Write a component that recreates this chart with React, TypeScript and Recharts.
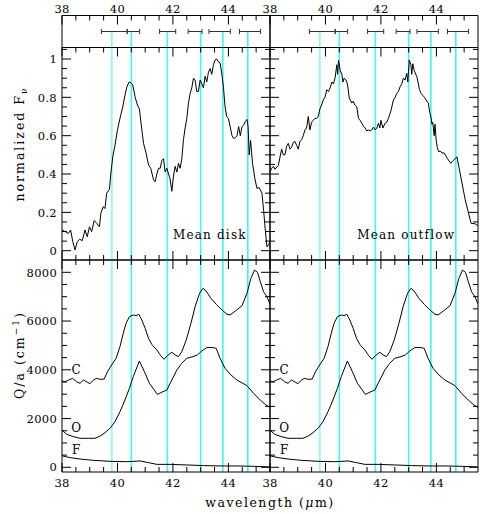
import { ComposedChart, Line, XAxis, YAxis, ReferenceLine, ReferenceDot } from 'recharts';

const W = 480;
const H = 514;
const FONT = '"DejaVu Serif", serif';

// wavelength axis (µm)
const X_DOMAIN: [number, number] = [38, 45.5];
const X_MAJOR = [38, 40, 42, 44];
const X_TICKS = [38, 38.5, 39, 39.5, 40, 40.5, 41, 41.5, 42, 42.5, 43, 43.5, 44, 44.5, 45];

// normalized flux axis
const F_DOMAIN: [number, number] = [-0.0485, 1.06];
const F_MAJOR = [0, 0.2, 0.4, 0.6, 0.8, 1];
const F_TICKS = [0, 0.05, 0.1, 0.15, 0.2, 0.25, 0.3, 0.35, 0.4, 0.45, 0.5, 0.55, 0.6, 0.65, 0.7, 0.75, 0.8, 0.85, 0.9, 0.95, 1, 1.05];

// Q/a axis
const Q_DOMAIN: [number, number] = [-193, 8505];
const Q_MAJOR = [0, 2000, 4000, 6000, 8000];
const Q_TICKS = [0, 500, 1000, 1500, 2000, 2500, 3000, 3500, 4000, 4500, 5000, 5500, 6000, 6500, 7000, 7500, 8000];

// feature positions (cyan) and their widths
const FEATURES = [39.8, 40.5, 41.8, 43.0, 43.8, 44.7];
const FEATURE_WIDTH = [1, 1.6, 1.6, 1.6, 1.6, 1.6];

// error bars in the top strip [from, to]
const BANDS: [number, number][] = [
  [39.42, 40.35], [40.35, 40.8], [41.52, 42.1], [42.55, 43.05], [43.3, 44.07], [44.4, 45.16],
];

const meanDisk: [number, number][] = [
  [38.0, 0.108], [38.11, 0.1], [38.23, 0.09], [38.31, 0.108], [38.39, 0.047], [38.47, 0.004], [38.55, 0.047],
  [38.64, 0.06], [38.73, 0.052], [38.83, 0.108], [38.91, 0.073], [38.99, 0.125], [39.07, 0.1], [39.16, 0.157],
  [39.25, 0.143], [39.35, 0.125], [39.4, 0.195], [39.49, 0.23], [39.55, 0.22], [39.61, 0.3], [39.71, 0.32],
  [39.76, 0.4], [39.83, 0.49], [39.91, 0.55], [40.0, 0.63], [40.09, 0.69], [40.19, 0.75], [40.27, 0.81],
  [40.34, 0.855], [40.42, 0.88], [40.49, 0.876], [40.55, 0.865], [40.64, 0.8], [40.72, 0.76], [40.79, 0.74],
  [40.88, 0.63], [40.94, 0.56], [41.03, 0.51], [41.12, 0.447], [41.2, 0.43], [41.3, 0.37], [41.36, 0.36],
  [41.42, 0.4], [41.48, 0.43], [41.54, 0.43], [41.6, 0.47], [41.66, 0.48], [41.72, 0.41], [41.78, 0.43],
  [41.84, 0.4], [41.89, 0.38], [41.96, 0.31], [42.02, 0.39], [42.08, 0.44], [42.14, 0.41], [42.2, 0.456],
  [42.26, 0.43], [42.32, 0.48], [42.38, 0.58], [42.44, 0.64], [42.5, 0.69], [42.56, 0.77], [42.62, 0.82],
  [42.68, 0.85], [42.74, 0.9], [42.8, 0.89], [42.86, 0.83], [42.92, 0.83], [42.98, 0.89], [43.04, 0.87],
  [43.1, 0.85], [43.16, 0.91], [43.22, 0.88], [43.28, 0.93], [43.34, 0.95], [43.4, 0.92], [43.46, 0.97],
  [43.52, 0.995], [43.58, 1.0], [43.64, 0.985], [43.7, 0.98], [43.76, 0.925], [43.82, 0.855], [43.88, 0.75],
  [43.94, 0.7], [44.0, 0.69], [44.06, 0.65], [44.13, 0.6], [44.19, 0.585], [44.25, 0.59], [44.31, 0.6],
  [44.37, 0.647], [44.43, 0.6], [44.49, 0.647], [44.55, 0.655], [44.61, 0.673], [44.67, 0.685], [44.71, 0.647],
  [44.75, 0.5], [44.8, 0.575], [44.87, 0.456], [44.95, 0.38], [45.03, 0.325], [45.11, 0.33], [45.21, 0.3],
  [45.27, 0.21], [45.33, 0.108], [45.39, 0.02], [45.45, 0.03], [45.5, 0.05],
];

const meanOutflow: [number, number][] = [
  [38.0, 0.41], [38.06, 0.43], [38.12, 0.44], [38.18, 0.425], [38.3, 0.445], [38.42, 0.53], [38.48, 0.5],
  [38.54, 0.5], [38.6, 0.545], [38.66, 0.56], [38.72, 0.53], [38.78, 0.54], [38.84, 0.565], [38.9, 0.57],
  [38.96, 0.55], [39.02, 0.53], [39.08, 0.57], [39.14, 0.58], [39.2, 0.6], [39.26, 0.63], [39.32, 0.64],
  [39.38, 0.7], [39.44, 0.63], [39.5, 0.67], [39.56, 0.68], [39.62, 0.69], [39.68, 0.69], [39.74, 0.7],
  [39.8, 0.74], [39.86, 0.76], [39.92, 0.786], [39.98, 0.8], [40.05, 0.84], [40.11, 0.83], [40.17, 0.85],
  [40.23, 0.88], [40.29, 0.87], [40.35, 0.905], [40.41, 0.97], [40.44, 0.92], [40.47, 0.995], [40.53, 0.94],
  [40.59, 0.92], [40.63, 0.88], [40.67, 0.9], [40.74, 0.89], [40.79, 0.87], [40.86, 0.795], [40.95, 0.77],
  [41.0, 0.78], [41.06, 0.76], [41.13, 0.75], [41.19, 0.69], [41.25, 0.68], [41.31, 0.665], [41.37, 0.65],
  [41.43, 0.64], [41.49, 0.625], [41.55, 0.63], [41.61, 0.625], [41.67, 0.63], [41.73, 0.645], [41.79, 0.63],
  [41.85, 0.64], [41.91, 0.665], [41.96, 0.64], [42.0, 0.68], [42.07, 0.64], [42.15, 0.665], [42.21, 0.67],
  [42.27, 0.69], [42.36, 0.73], [42.45, 0.786], [42.51, 0.8], [42.57, 0.82], [42.63, 0.83], [42.69, 0.855],
  [42.75, 0.87], [42.81, 0.9], [42.87, 0.89], [42.93, 0.925], [42.97, 0.88], [43.02, 0.995], [43.08, 0.97],
  [43.11, 0.92], [43.15, 0.975], [43.2, 0.94], [43.3, 0.905], [43.39, 0.84], [43.45, 0.82], [43.51, 0.81],
  [43.57, 0.8], [43.63, 0.786], [43.71, 0.77], [43.76, 0.72], [43.8, 0.7], [43.84, 0.66], [43.87, 0.67],
  [43.92, 0.6], [43.95, 0.66], [43.99, 0.58], [44.03, 0.54], [44.08, 0.516], [44.14, 0.52], [44.2, 0.51],
  [44.28, 0.51], [44.4, 0.48], [44.52, 0.456], [44.6, 0.47], [44.68, 0.48], [44.74, 0.49], [44.86, 0.4],
  [45.04, 0.265], [45.25, 0.143], [45.4, 0.14], [45.5, 0.13],
];

const qC: [number, number][] = [
  [38.0, 3540], [38.12, 3510], [38.24, 3580], [38.38, 3650], [38.53, 3510], [38.65, 3445], [38.77, 3580],
  [38.89, 3510], [39.01, 3430], [39.13, 3580], [39.25, 3650], [39.37, 3610], [39.52, 3620], [39.64, 3920],
  [39.79, 4200], [39.95, 4470], [40.09, 4950], [40.21, 5500], [40.31, 5910], [40.43, 6180], [40.57, 6250],
  [40.67, 6220], [40.77, 6280], [40.88, 6040], [41.0, 5700], [41.12, 5290], [41.24, 5040], [41.42, 4810],
  [41.56, 4580], [41.68, 4430], [41.8, 4580], [41.96, 4720], [42.08, 4610], [42.2, 4540], [42.32, 4750],
  [42.48, 5220], [42.65, 5910], [42.8, 6590], [42.96, 7140], [43.08, 7340], [43.2, 7230], [43.37, 6930],
  [43.56, 6690], [43.77, 6450], [43.95, 6280], [44.06, 6250], [44.25, 6410], [44.49, 6630], [44.67, 7140],
  [44.81, 7750], [44.94, 8090], [45.05, 8000], [45.15, 7620], [45.27, 7200], [45.39, 7000], [45.5, 6700],
];

const qO: [number, number][] = [
  [38.0, 1530], [38.17, 1350], [38.41, 1260], [38.65, 1190], [38.95, 1190], [39.19, 1190], [39.37, 1280],
  [39.55, 1420], [39.73, 1600], [39.91, 1870], [40.09, 2280], [40.27, 2760], [40.43, 3240], [40.57, 3720],
  [40.79, 4360], [40.96, 3950], [41.15, 3450], [41.44, 2990], [41.6, 3080], [41.78, 3170], [41.96, 3580],
  [42.14, 3990], [42.32, 4270], [42.5, 4470], [42.72, 4540], [42.88, 4610], [43.04, 4770], [43.22, 4910],
  [43.4, 4920], [43.56, 4880], [43.7, 4470], [43.88, 4060], [44.06, 3820], [44.31, 3580], [44.67, 3350],
  [44.91, 3030], [45.15, 2760], [45.33, 2580], [45.5, 2450],
];

const qF: [number, number][] = [
  [38.0, 475], [38.29, 395], [38.65, 340], [39.13, 285], [39.73, 245], [40.33, 230], [40.82, 260],
  [41.12, 190], [41.42, 120], [41.9, 120], [42.5, 95], [43.1, 70], [43.7, 55], [44.31, 55], [44.91, 40], [45.5, 15],
];

const toPts = (a: [number, number][]) => a.map(([w, v]) => ({ w, v }));

const abs: React.CSSProperties = { position: 'absolute', left: 0, top: 0 };
const AX = { stroke: '#000', strokeWidth: 1 };

function tickRenderer(side: 'top' | 'bottom' | 'left' | 'right', majors: number[], withLabel: boolean) {
  return function TickMark(props: any) {
    const { x, y, payload } = props;
    const v = payload.value;
    const major = majors.indexOf(v) >= 0;
    const len = major ? 9 : 5;
    let x2 = x;
    let y2 = y;
    let tx = x;
    let ty = y;
    let anchor: 'middle' | 'end' = 'middle';
    if (side === 'bottom') {
      y2 = y - len;
      ty = y + 14.5;
    } else if (side === 'top') {
      y2 = y + len;
      ty = y - 3;
    } else if (side === 'left') {
      x2 = x + len;
      tx = x - 5;
      ty = y + 4.2;
      anchor = 'end';
    } else {
      x2 = x - len;
    }
    return (
      <g>
        <line x1={x} y1={y} x2={x2} y2={y2} stroke="#000" strokeWidth={1} />
        {withLabel && major ? (
          <text x={tx} y={ty} textAnchor={anchor} fontFamily={FONT} fontSize={11.5} fill="#000" letterSpacing={0.3}>
            {String(v)}
          </text>
        ) : null}
      </g>
    );
  };
}

const textShape = (label: string) => (p: any) => (
  <text x={p.cx} y={p.cy} textAnchor="middle" dominantBaseline="central" fontFamily={FONT} fontSize={12} fill="#000" letterSpacing={1.2}>
    {label}
  </text>
);

const COLS = [
  { left: 62, right: 270, yLabels: true, spectrum: meanDisk, title: 'Mean disk', titleX: 43.33 },
  { left: 270, right: 478, yLabels: false, spectrum: meanOutflow, title: 'Mean outflow', titleX: 42.91 },
];

const ROW_STRIP = [15.5, 47.5];
const ROW_TOP = [47.5, 260];
const ROW_BOTTOM = [260, 472];

// axes take 1px each, so the margins are one pixel smaller than the plot box
function margin(left: number, right: number, row: number[]) {
  return { left: left - 1, right: W - right - 1, top: row[0] - 1, bottom: H - row[1] - 1 };
}

function xAxes(topLabels: boolean, bottomLabels: boolean, bottomTicks = true) {
  return [
    <XAxis key="xb" xAxisId={0} type="number" dataKey="w" domain={X_DOMAIN} allowDataOverflow ticks={X_TICKS}
      interval={0} height={1} tickSize={0} tickMargin={0} axisLine={AX} tickLine={false}
      tick={bottomTicks ? tickRenderer('bottom', X_MAJOR, bottomLabels) : false} />,
    <XAxis key="xt" xAxisId="t" orientation="top" type="number" dataKey="w" domain={X_DOMAIN} allowDataOverflow
      ticks={X_TICKS} interval={0} height={1} tickSize={0} tickMargin={0} axisLine={AX} tickLine={false}
      tick={tickRenderer('top', X_MAJOR, topLabels)} />,
  ];
}

function yAxes(domain: [number, number], ticks: number[] | null, majors: number[], labels: boolean) {
  return [
    <YAxis key="yl" yAxisId={0} type="number" domain={domain} allowDataOverflow ticks={ticks ?? undefined}
      interval={0} width={1} tickSize={0} tickMargin={0} axisLine={AX} tickLine={false}
      tick={ticks ? tickRenderer('left', majors, labels) : false} />,
    <YAxis key="yr" yAxisId="r" orientation="right" type="number" domain={domain} allowDataOverflow
      ticks={ticks ?? undefined} interval={0} width={1} tickSize={0} tickMargin={0} axisLine={AX} tickLine={false}
      tick={ticks ? tickRenderer('right', majors, false) : false} />,
  ];
}

const CYAN = '#3ff5f5';

function Column({ col }: { col: (typeof COLS)[number] }) {
  return (
    <>
      {/* strip with the band widths */}
      <ComposedChart width={W} height={H} margin={margin(col.left, col.right, ROW_STRIP)} style={abs}>
        {xAxes(true, false, false)}
        {yAxes([0, 1], null, [], false)}
        {FEATURES.map((f, i) => (
          <ReferenceLine key={'c' + i} segment={[{ x: f, y: 0.5 }, { x: f, y: 0 }]} stroke={CYAN} strokeWidth={FEATURE_WIDTH[i]} />
        ))}
        {BANDS.map(([a, b], i) => [
          <ReferenceLine key={'h' + i} segment={[{ x: a, y: 0.5 }, { x: b, y: 0.5 }]} stroke="#333" strokeWidth={1} />,
          <ReferenceLine key={'l' + i} segment={[{ x: a, y: 0.42 }, { x: a, y: 0.58 }]} stroke="#333" strokeWidth={1} />,
          <ReferenceLine key={'r' + i} segment={[{ x: b, y: 0.42 }, { x: b, y: 0.58 }]} stroke="#333" strokeWidth={1} />,
        ])}
      </ComposedChart>

      {/* normalized spectrum */}
      <ComposedChart width={W} height={H} margin={margin(col.left, col.right, ROW_TOP)} style={abs}>
        {xAxes(false, false)}
        {yAxes(F_DOMAIN, F_TICKS, F_MAJOR, col.yLabels)}
        {FEATURES.map((f, i) => (
          <ReferenceLine key={'c' + i} x={f} stroke={CYAN} strokeWidth={FEATURE_WIDTH[i]} />
        ))}
        <Line data={toPts(col.spectrum)} dataKey="v" type="linear" stroke="#000" strokeWidth={1} dot={false}
          activeDot={false} isAnimationActive={false} />
        <ReferenceDot x={col.titleX} y={0.082} r={0} shape={textShape(col.title)} />
      </ComposedChart>

      {/* Q/a curves */}
      <ComposedChart width={W} height={H} margin={margin(col.left, col.right, ROW_BOTTOM)} style={abs}>
        {xAxes(false, true)}
        {yAxes(Q_DOMAIN, Q_TICKS, Q_MAJOR, col.yLabels)}
        {FEATURES.map((f, i) => (
          <ReferenceLine key={'c' + i} x={f} stroke={CYAN} strokeWidth={FEATURE_WIDTH[i]} />
        ))}
        {[qC, qO, qF].map((s, i) => (
          <Line key={i} data={toPts(s)} dataKey="v" type="linear" stroke="#000" strokeWidth={1} dot={false}
            activeDot={false} isAnimationActive={false} />
        ))}
        <ReferenceDot x={38.53} y={3990} r={0} shape={textShape('C')} />
        <ReferenceDot x={38.53} y={1630} r={0} shape={textShape('O')} />
        <ReferenceDot x={38.53} y={710} r={0} shape={textShape('F')} />
      </ComposedChart>
    </>
  );
}

export default function App() {
  return (
    <div style={{ position: 'absolute', left: 0, top: 0, width: W, height: H, background: '#fff' }}>
      {COLS.map((c, i) => (
        <Column key={i} col={c} />
      ))}
      <svg width={W} height={H} style={abs}>
        <g fontFamily={FONT} fontSize={12.5} fill="#000" letterSpacing={2}>
          <text transform="translate(24,144) rotate(-90)" textAnchor="middle">
            normalized F<tspan fontSize={9} dy={3}>ν</tspan>
          </text>
          <text transform="translate(24,355) rotate(-90)" textAnchor="middle">
            Q/a (cm<tspan fontSize={9} dy={-5}>−1</tspan><tspan dy={5}>)</tspan>
          </text>
        </g>
        <text x={270} y={507} textAnchor="middle" fontFamily={FONT} fontSize={12.5} fill="#000" letterSpacing={1.5}>
          wavelength (<tspan fontStyle="italic">μ</tspan>m)
        </text>
      </svg>
    </div>
  );
}
